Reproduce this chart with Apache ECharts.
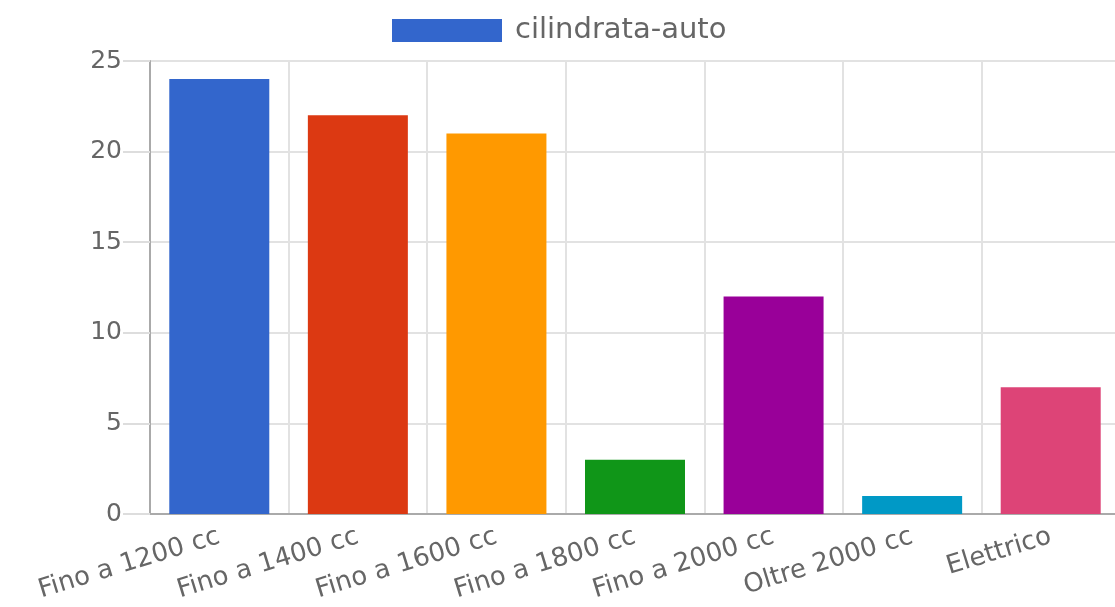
<!DOCTYPE html>
<html lang="it">

<head>
  <meta charset="UTF-8">
  <title>cilindrata-auto</title>
  <style>
    html, body { margin: 0; padding: 0; background: #fff; overflow: hidden; }
  </style>
</head>

<body>
  <div style="width:1115px;height:607px" id="chart"></div>
  <script type="text/javascript" src="https://cdn.jsdelivr.net/npm/echarts@6/dist/echarts.min.js"></script>
  <script>
    var categories = ['Fino a 1200 cc', 'Fino a 1400 cc', 'Fino a 1600 cc', 'Fino a 1800 cc', 'Fino a 2000 cc', 'Oltre 2000 cc', 'Elettrico'];
    var values = [24, 22, 21, 3, 12, 1, 7];
    var barColors = ['#3366cc', '#dc3912', '#ff9900', '#109618', '#990099', '#0099c6', '#dd4477'];
    var seriesName = 'cilindrata-auto';

    var font = 'DejaVu Sans';
    var myChart = echarts.init(document.querySelector('#chart'));

    var option = {
      animation: false,
      legend: {
        left: 392,
        top: 16,
        padding: 0,
        itemWidth: 110,
        itemHeight: 23,
        icon: 'rect',
        textStyle: { color: '#666', fontSize: 29, lineHeight: 23, fontFamily: font, padding: [0, 0, 0, 8] },
        data: [seriesName]
      },
      // the original plot runs past the right edge of the picture
      grid: { left: 150, top: 61, bottom: 93, width: 970, outerBoundsMode: 'none', containLabel: false },
      xAxis: {
        type: 'category',
        data: categories,
        axisLine: { lineStyle: { color: '#aaa', width: 2 } },
        axisTick: { length: 18, lineStyle: { color: '#ddd', width: 2 } },
        splitLine: { show: true, lineStyle: { color: '#e2e2e2', width: 2 } },
        axisLabel: { rotate: 17, margin: 22, color: '#666', fontSize: 26, fontFamily: font, interval: 0 }
      },
      yAxis: {
        type: 'value',
        min: 0,
        max: 25,
        interval: 5,
        axisLine: { show: true, lineStyle: { color: '#aaa', width: 2 } },
        axisTick: { show: true, length: 27, lineStyle: { color: '#ddd', width: 2 } },
        splitLine: { lineStyle: { color: '#e2e2e2', width: 2 } },
        axisLabel: { margin: 28, color: '#666', fontSize: 25, fontFamily: font }
      },
      series: [{
        name: seriesName,
        type: 'bar',
        barWidth: 100,
        itemStyle: { color: barColors[0] },
        data: values.map(function (v, i) {
          return { value: v, itemStyle: { color: barColors[i] } };
        })
      }]
    };
    myChart.setOption(option);
  </script>
</body>

</html>
